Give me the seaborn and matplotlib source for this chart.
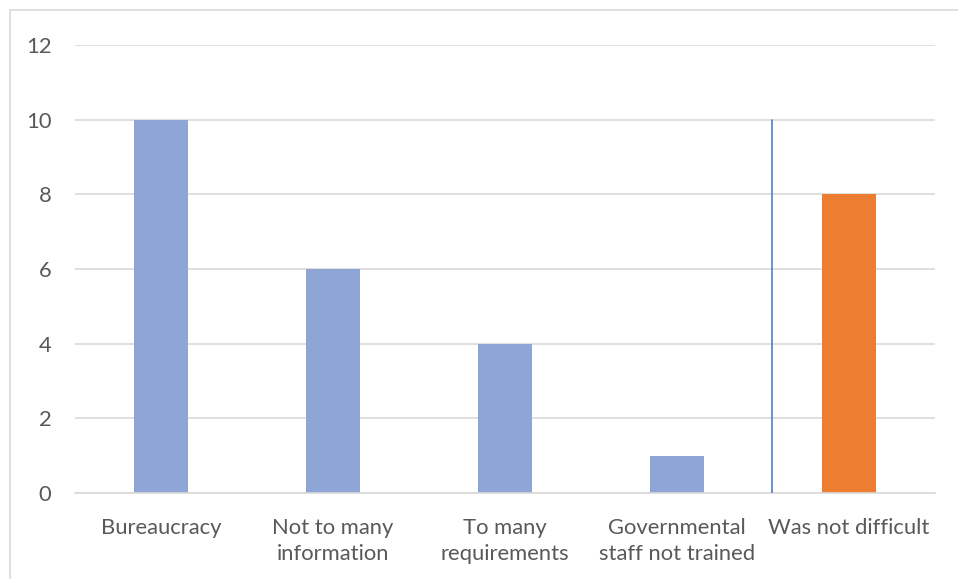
import matplotlib
matplotlib.use("Agg")
import matplotlib.pyplot as plt
import seaborn as sns
from matplotlib.patches import Rectangle

categories = ["Bureaucracy", "Not to many\ninformation", "To many\nrequirements",
              "Governmental\nstaff not trained", "Was not difficult"]
values = [10, 6, 4, 1, 8]
bar_colors = ["#8FA5D5", "#8FA5D5", "#8FA5D5", "#8FA5D5", "#ED7D31"]
yticks = [0, 2, 4, 6, 8, 10, 12]
divider_x = 3.55
divider_top = 10

sns.set_theme(style="white")
plt.rcParams["font.family"] = ["Lato", "DejaVu Sans"]

fig = plt.figure(figsize=(9.58, 5.79), dpi=100)
ax = fig.add_axes([75 / 958, 1 - 493 / 579, (935 - 75) / 958, (493 - 45) / 579])

sns.barplot(x=categories, y=values, hue=categories, palette=bar_colors,
            legend=False, width=0.31, saturation=1, linewidth=0, ax=ax)

ax.plot([divider_x, divider_x], [0, divider_top], color="#4472C4", lw=1.1, zorder=3)

ax.set_ylim(0, 12)
ax.set_xlim(-0.5, 4.5)
ax.set_yticks(yticks)
ax.yaxis.grid(True, color="#D9D9D9", lw=1.2)
ax.set_axisbelow(True)
for side in ["left", "right", "top"]:
    ax.spines[side].set_visible(False)
ax.spines["bottom"].set_color("#D9D9D9")
ax.spines["bottom"].set_linewidth(1.2)
ax.tick_params(axis="both", length=0, labelsize=15.8, colors="#595959")
ax.tick_params(axis="y", pad=17)
ax.tick_params(axis="x", pad=18)
ax.set_xlabel("")
ax.set_ylabel("")
for lbl in ax.get_xticklabels():
    lbl.set_linespacing(1.38)

# chart-area frame
fig.patches.append(Rectangle((10 / 958, -0.05), 1.1, 1 - 10 / 579 + 0.05,
                             transform=fig.transFigure, fill=False,
                             edgecolor="#D9D9D9", lw=1.2, zorder=0))

fig.savefig("out.png", dpi=100)
